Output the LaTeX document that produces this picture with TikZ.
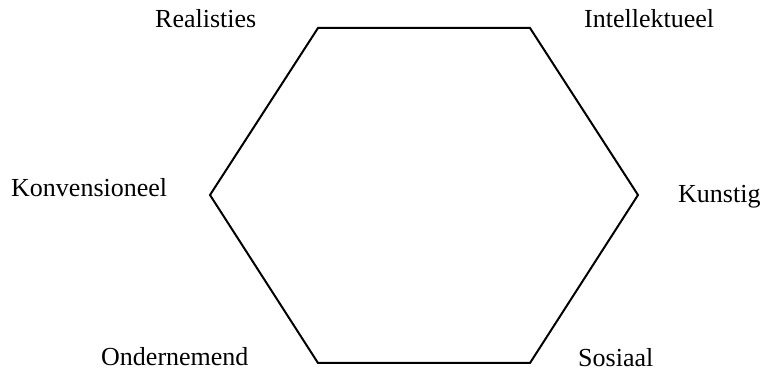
\documentclass[tikz,border=0pt]{standalone}
\usepackage{fontspec}
\setmainfont{Liberation Serif}
\begin{document}
\begin{tikzpicture}[x=1pt,y=1pt,
  lbl/.style={inner sep=0pt,anchor=base west,font=\fontsize{26}{30}\selectfont},
  hexline/.style={line width=2pt,line join=miter}]
\useasboundingbox (0,0) rectangle (763,374);
\coordinate (tl) at (318,346);
\coordinate (tr) at (530,346);
\coordinate (r) at (638,179);
\coordinate (br) at (530,11);
\coordinate (bl) at (318,11);
\coordinate (l) at (210,179);
\draw[hexline] (tl) -- (tr) -- (r) -- (br) -- (bl) -- (l) -- cycle;
\node[lbl] (real) at (155,346) {Realisties};
\node[lbl] (intel) at (584,346) {Intellektueel};
\node[lbl] (konv) at (11,177) {Konvensioneel};
\node[lbl] (kuns) at (678,171) {Kunstig};
\node[lbl] (onder) at (101,8) {Ondernemend};
\node[lbl] (sos) at (578,7) {Sosiaal};
\end{tikzpicture}
\end{document}
